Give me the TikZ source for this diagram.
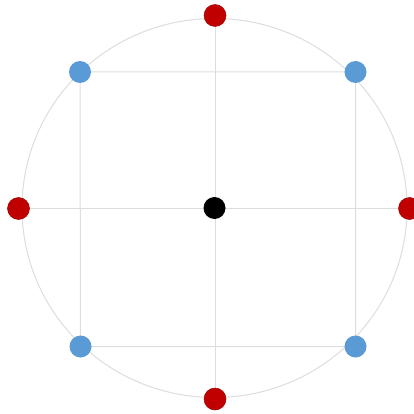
\documentclass[tikz,border=0pt]{standalone}
\usetikzlibrary{backgrounds}
\definecolor{dotred}{HTML}{C00000}
\definecolor{dotblue}{HTML}{5B9BD5}
\definecolor{linegray}{HTML}{DDDDDD}
\tikzset{
  reddot/.style={circle, fill=dotred, draw=dotred!85!black, line width=0.5pt, minimum size=22pt, inner sep=0pt},
  bluedot/.style={circle, fill=dotblue, minimum size=22pt, inner sep=0pt},
  blackdot/.style={circle, fill=black, minimum size=22pt, inner sep=0pt},
  guide/.style={draw=linegray, line width=1pt}
}
\begin{document}
\begin{tikzpicture}[x=1pt,y=-1pt]
\useasboundingbox (0,0) rectangle (414,414);
\node[blackdot] (c) at (214.5,208) {};
\node[reddot] (t) at (215,15.5) {};
\node[reddot] (b) at (215,399) {};
\node[reddot] (l) at (18.5,208.5) {};
\node[reddot] (r) at (409.5,208.5) {};
\node[bluedot] (tl) at (80,72) {};
\node[bluedot] (tr) at (355.5,72) {};
\node[bluedot] (bl) at (80.5,346.5) {};
\node[bluedot] (br) at (355.5,346.5) {};
\begin{scope}[on background layer]
\draw[guide] (c.center) circle[x radius=192.5, y radius=189.5];
\draw[guide] (t.center) -- (b.center);
\draw[guide] (l.center) -- (r.center);
\draw[guide] (tl.center) -- (tr.center) -- (br.center) -- (bl.center) -- cycle;
\end{scope}
\end{tikzpicture}
\end{document}
